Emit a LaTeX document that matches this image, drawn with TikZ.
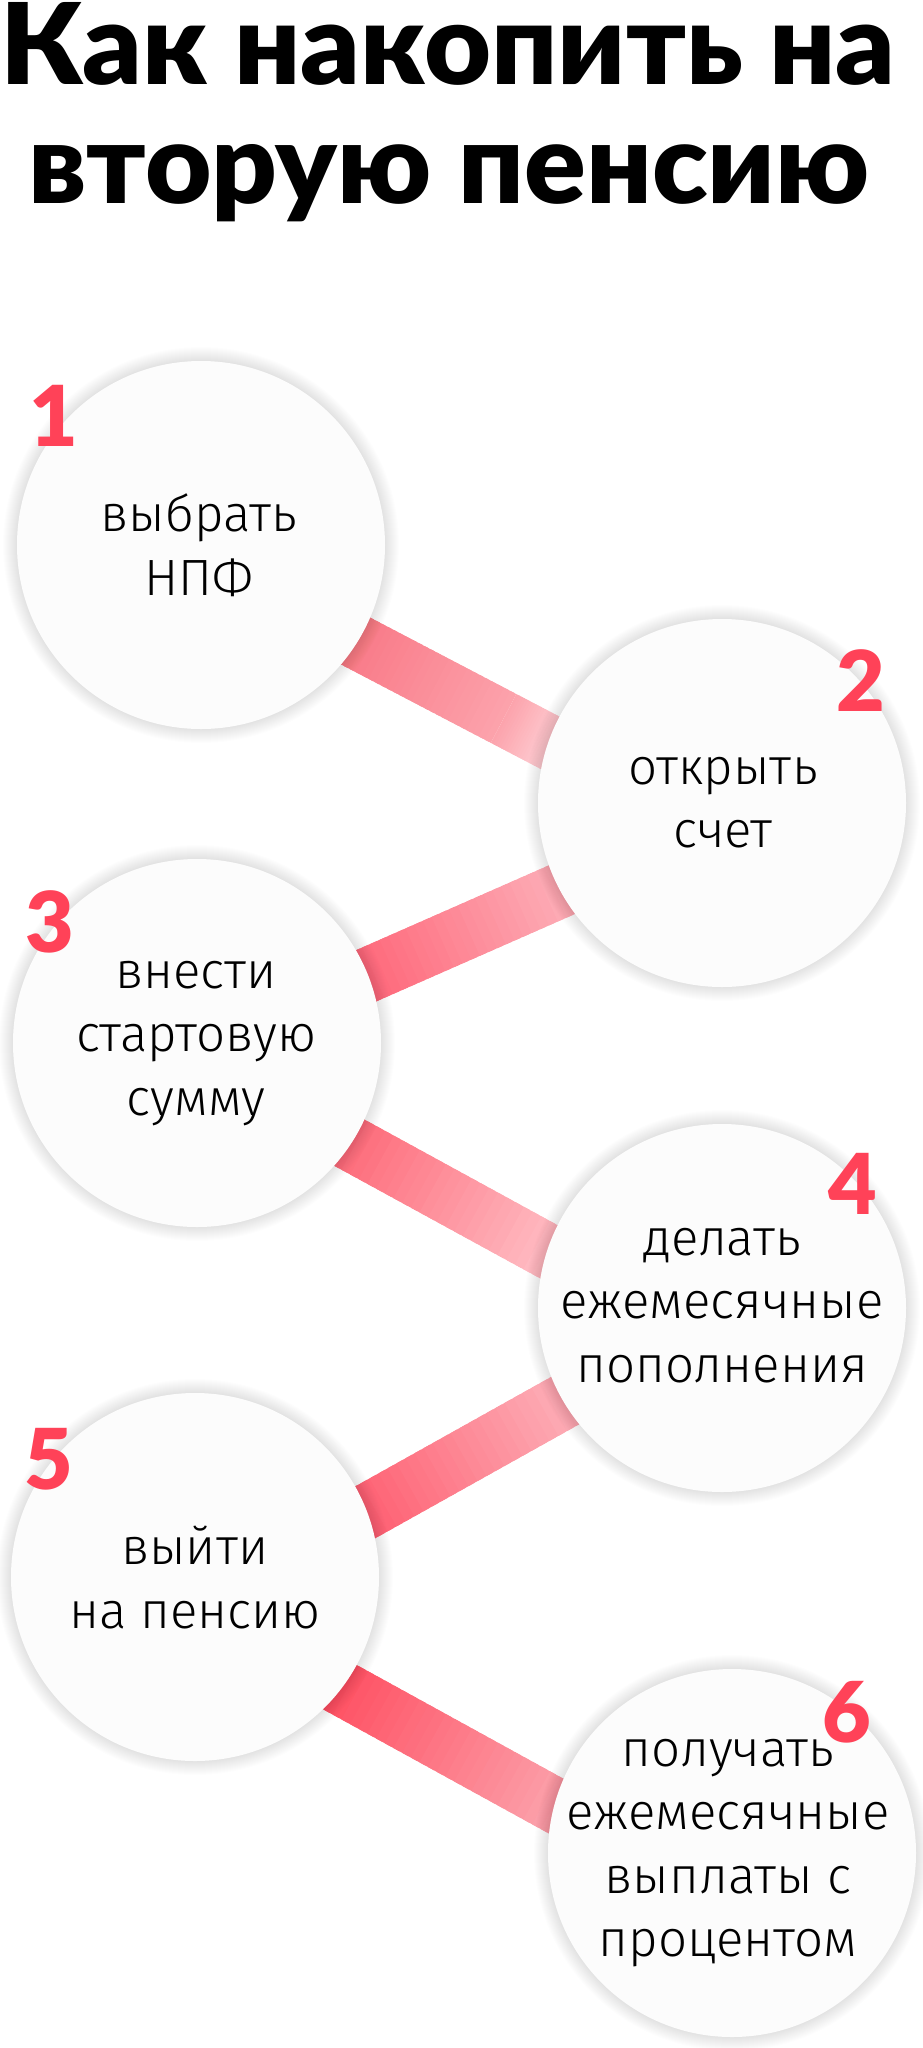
\documentclass[tikz,border=0pt]{standalone}
\usepackage{fontspec}
\usepackage{graphicx}
\usetikzlibrary{calc}
\newfontfamily\titlefont{Lato Black}
\newfontfamily\bodyfont{Fira Sans Light}
\definecolor{numred}{HTML}{FF4258}
\definecolor{circfill}{HTML}{FCFCFC}
\definecolor{gA}{HTML}{F8707F}\definecolor{gB}{HTML}{FCA3AC}\definecolor{gC}{HTML}{FFE2E6}
\definecolor{hA}{HTML}{FE5B6F}\definecolor{hB}{HTML}{FDB8C0}
\definecolor{iA}{HTML}{FD5F6F}\definecolor{iB}{HTML}{FFC9CF}
\definecolor{jA}{HTML}{FE4F63}\definecolor{jB}{HTML}{FDB8C0}
\definecolor{kA}{HTML}{FF4A5D}\definecolor{kB}{HTML}{FBAAB3}
\tikzset{
  stepcircle/.style={circle, fill=circfill, minimum size=368pt, inner sep=0pt},
  bandline/.style={line width=55pt, line cap=butt},
  numlabel/.style={font=\titlefont\fontsize{84}{84}\selectfont, text=numred, inner sep=0pt, anchor=base},
  bodyline/.style={font=\bodyfont\fontsize{51}{63}\selectfont, text=black, inner sep=0pt, anchor=base},
}
\newcommand\gradband[4]{%
  \foreach \i in {0,...,29}{%
    \pgfmathsetmacro\ta{\i/30}%
    \pgfmathsetmacro\tb{min((\i+1.7)/30,1)}%
    \pgfmathtruncatemacro\pc{100*(\i+0.5)/30}%
    \draw[bandline, draw={#4!\pc!#3}] ($(#1)!\ta!(#2)$) -- ($(#1)!\tb!(#2)$);
  }}
\begin{document}
\begin{tikzpicture}[x=1pt,y=-1pt]
\useasboundingbox (0,0) rectangle (922,2048);
\fill[white] (0,0) rectangle (922,2048);
% centres
\coordinate (p1) at (201,545);
\coordinate (p2) at (722,803);
\coordinate (p3) at (197,1043);
\coordinate (p4) at (722,1308);
\coordinate (p5) at (195,1577);
\coordinate (p6) at (732,1853);
% band ends
\coordinate (s12) at ($(p1)+(119,77.4)$);
\coordinate (e12) at ($(p2)+(-147,-47.2)$);
\coordinate (m12) at ($(s12)!0.72!(e12)$);
\coordinate (s23) at ($(p3)+(133,-51.3)$);
\coordinate (e23) at ($(p2)+(-132,74.3)$);
\coordinate (s34) at ($(p3)+(123,83.6)$);
\coordinate (e34) at ($(p4)+(-142,-39.2)$);
\coordinate (s45) at ($(p5)+(125,-39.4)$);
\coordinate (e45) at ($(p4)+(-132,78.7)$);
\coordinate (s56) at ($(p5)+(125,99.2)$);
\coordinate (e56) at ($(p6)+(-152,-33.8)$);
% bands
\gradband{s12}{m12}{gA}{gB}
\gradband{m12}{e12}{gB}{gC}
\gradband{s23}{e23}{hA}{hB}
\gradband{s34}{e34}{iA}{iB}
\gradband{s45}{e45}{jA}{jB}
\gradband{s56}{e56}{kA}{kB}
% shadows
\foreach \c in {p1,p2,p3,p4,p5,p6}{
  \foreach \k in {1,...,14}{
    \fill[black, opacity=0.009] (\c) circle (184+\k);
  }
}
% circles
\node[stepcircle] (c1) at (p1) {};
\node[stepcircle] (c2) at (p2) {};
\node[stepcircle] (c3) at (p3) {};
\node[stepcircle] (c4) at (p4) {};
\node[stepcircle] (c5) at (p5) {};
\node[stepcircle] (c6) at (p6) {};
% title
\node[inner sep=0pt, anchor=north west] (title1) at (0,2)
  {\resizebox{895pt}{82pt}{\titlefont Как накопить на}};
\node[inner sep=0pt, anchor=base west] (title2) at (28,203)
  {\resizebox{841pt}{59pt}{\titlefont вторую пенсию}};
% numbers
\node[numlabel] (n1) at (54,446) {1};
\node[numlabel] (n2) at (861,711) {2};
\node[numlabel] (n3) at (50,952) {3};
\node[numlabel] (n4) at (853,1214) {4};
\node[numlabel] (n5) at (49,1489) {5};
\node[numlabel] (n6) at (847,1742) {6};
% texts
\node[bodyline] (t1a) at (199,531.7) {выбрать};
\node[bodyline] (t1b) at (199,595) {НПФ};
\node[bodyline] (t2a) at (723,784) {открыть};
\node[bodyline] (t2b) at (723,847) {счет};
\node[bodyline] (t3a) at (196,988) {внести};
\node[bodyline] (t3b) at (196,1051.5) {стартовую};
\node[bodyline] (t3c) at (196,1115) {сумму};
\node[bodyline] (t4a) at (722,1255) {делать};
\node[bodyline] (t4b) at (722,1318.5) {ежемесячные};
\node[bodyline] (t4c) at (722,1382) {пополнения};
\node[bodyline] (t5a) at (195,1564) {выйти};
\node[bodyline] (t5b) at (195,1628) {на пенсию};
\node[bodyline] (t6a) at (728,1766) {получать};
\node[bodyline] (t6b) at (728,1829) {ежемесячные};
\node[bodyline] (t6c) at (728,1893) {выплаты с};
\node[bodyline] (t6d) at (728,1956) {процентом};
\end{tikzpicture}
\end{document}
